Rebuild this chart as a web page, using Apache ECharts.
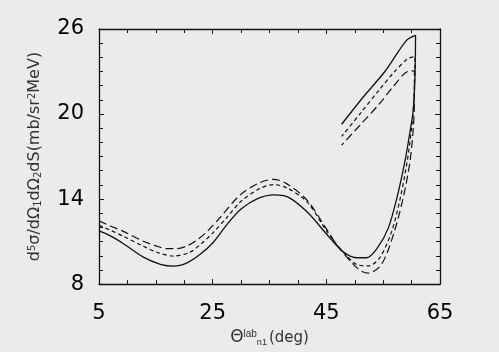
<!DOCTYPE html>
<html lang="en">
<head>
  <meta charset="UTF-8">
  <title>d5σ vs Θ lab</title>
  <script src="https://cdn.jsdelivr.net/npm/echarts@6/dist/echarts.min.js"></script>
  <style>
    html, body { margin: 0; padding: 0; background: #ebebeb; }
    #chart { width: 499px; height: 352px; }
  </style>
</head>
<body>
  <div id="chart"></div>
  <script>
    // x ticks / y ticks
    const xTicks = [5, 25, 45, 65];
    const yTicks = [8, 14, 20, 26];

    // solid curve (lower branch out to the cusp, then the upper branch back)
    const solidX = [5, 7, 9.3, 12.8, 15.8, 18.1, 20.5, 22.8, 25, 27.5, 30, 33, 35.8, 38.2, 41.6, 45.1, 47.1,
      48.6, 50.3, 52.1, 53.9, 55.9, 57.4, 58.8, 59.7, 60.3, 60.6, 60.7, 59.1, 55.3, 51.5, 47.7];
    const solidY = [11.75, 11.4, 10.85, 9.9, 9.4, 9.27, 9.5, 10.1, 10.9, 12.2, 13.3, 14.05, 14.3, 14.15, 13.1, 11.5, 10.6,
      10.1, 9.86, 9.86, 10.5, 11.95, 14.05, 16.6, 18.7, 20.3, 22.6, 25.55, 25.2, 23.0, 21.2, 19.28];

    // short-dash curve
    const dotX = [5, 7, 9.3, 12.8, 15.5, 18.1, 21, 23, 25, 27.5, 30, 33.3, 35.7, 38, 41.6, 45.1, 46.8,
      48.6, 50.3, 52.4, 54.4, 56.5, 58, 59.2, 60, 60.4, 60.6, 59.3, 56.8, 54.4, 51, 47.7];
    const dotY = [12.14, 11.8, 11.37, 10.67, 10.2, 9.98, 10.25, 10.85, 11.6, 12.7, 13.85, 14.74, 15.02, 14.8, 13.8, 11.72, 10.8,
      9.98, 9.39, 9.28, 9.86, 11.72, 14.05, 16.6, 19, 21, 24.05, 23.9, 22.9, 21.75, 20.05, 18.42];

    // long-dash curve
    const dashX = [5, 7, 9.3, 12.8, 15, 17, 18.7, 20.5, 22.2, 24, 26.3, 29.8, 33.3, 35.7, 38, 41.6, 45.1, 46.8,
      49.2, 50.9, 52.4, 54.7, 56.8, 58.5, 59.7, 60.3, 60.5, 60.5, 59.3, 56.8, 54.4, 51, 47.7];
    const dashY = [12.46, 12.1, 11.72, 11.02, 10.7, 10.5, 10.5, 10.7, 11.1, 11.7, 12.7, 14.28, 15.16, 15.39, 15.09, 13.93, 11.84, 10.8,
      9.63, 8.98, 8.77, 9.39, 11.49, 14.05, 16.6, 19, 21, 23.05, 23.0, 21.95, 20.75, 19.25, 17.81];

    const zip = (xs, ys) => xs.map((x, i) => [x, ys[i]]);

    const ink = '#111';
    const labelFont = { color: '#000', fontSize: 21, fontFamily: 'DejaVu Sans' };

    const frame = {
      axisLine: { show: true, lineStyle: { color: ink, width: 1.3 } },
      axisTick: { show: true, inside: true, length: 5, lineStyle: { color: ink, width: 1 } },
      splitLine: { show: false }
    };
    const xMinor = { minorTick: { show: true, splitNumber: 4, length: 4, lineStyle: { color: ink } } };
    const yMinor = { minorTick: { show: true, splitNumber: 6, length: 4, lineStyle: { color: ink } } };

    const myChart = echarts.init(document.getElementById('chart'));

    const option = {
      backgroundColor: '#ebebeb',
      animation: false,
      grid: { left: 99, right: 59, top: 29, bottom: 65 },
      xAxis: [
        Object.assign({
          type: 'value', min: xTicks[0], max: xTicks[xTicks.length - 1], interval: 20,
          axisLabel: Object.assign({ margin: 19 }, labelFont),
          name: '{t|Θ}{sup|lab}{sub|n1}{u|(deg)}',
          nameLocation: 'middle',
          nameGap: 31,
          nameTextStyle: {
            rich: {
              t: { fontSize: 17, color: '#333', fontFamily: 'DejaVu Sans' },
              sup: { fontSize: 10, color: '#333', verticalAlign: 'top', padding: [0, 0, 8, 0] },
              sub: { fontSize: 9, color: '#333', verticalAlign: 'bottom', padding: [6, 2, 0, 0] },
              u: { fontSize: 15, color: '#333', fontFamily: 'DejaVu Sans' }
            }
          }
        }, frame, xMinor),
        Object.assign({
          type: 'value', position: 'top', min: 5, max: 65, interval: 20,
          axisLabel: { show: false }
        }, frame, xMinor)
      ],
      yAxis: [
        Object.assign({
          type: 'value', min: yTicks[0], max: yTicks[yTicks.length - 1], interval: 6,
          axisLabel: Object.assign({ margin: 15 }, labelFont),
          name: 'd{sup|5}σ/dΩ{sub|1}dΩ{sub|2}dS(mb/sr{sup|2}MeV)',
          nameLocation: 'middle',
          nameRotate: 90,
          nameGap: 56,
          nameTextStyle: {
            fontSize: 16, color: '#333', fontFamily: 'DejaVu Sans',
            rich: {
              sup: { fontSize: 10, color: '#333', verticalAlign: 'top', padding: [0, 0, 6, 0] },
              sub: { fontSize: 10, color: '#333', verticalAlign: 'bottom', padding: [5, 0, 0, 0] }
            }
          }
        }, frame, yMinor),
        Object.assign({
          type: 'value', position: 'right', min: 8, max: 26, interval: 6,
          axisLabel: { show: false }
        }, frame, yMinor)
      ],
      series: [
        {
          type: 'line', data: zip(solidX, solidY), smooth: 0.3, symbol: 'none',
          lineStyle: { color: ink, width: 1.3, type: 'solid' }
        },
        {
          type: 'line', data: zip(dotX, dotY), smooth: 0.3, symbol: 'none',
          lineStyle: { color: ink, width: 1.2, type: [4, 3] }
        },
        {
          type: 'line', data: zip(dashX, dashY), smooth: 0.3, symbol: 'none',
          lineStyle: { color: ink, width: 1.2, type: [8, 4] }
        }
      ]
    };

    myChart.setOption(option);
  </script>
</body>
</html>
